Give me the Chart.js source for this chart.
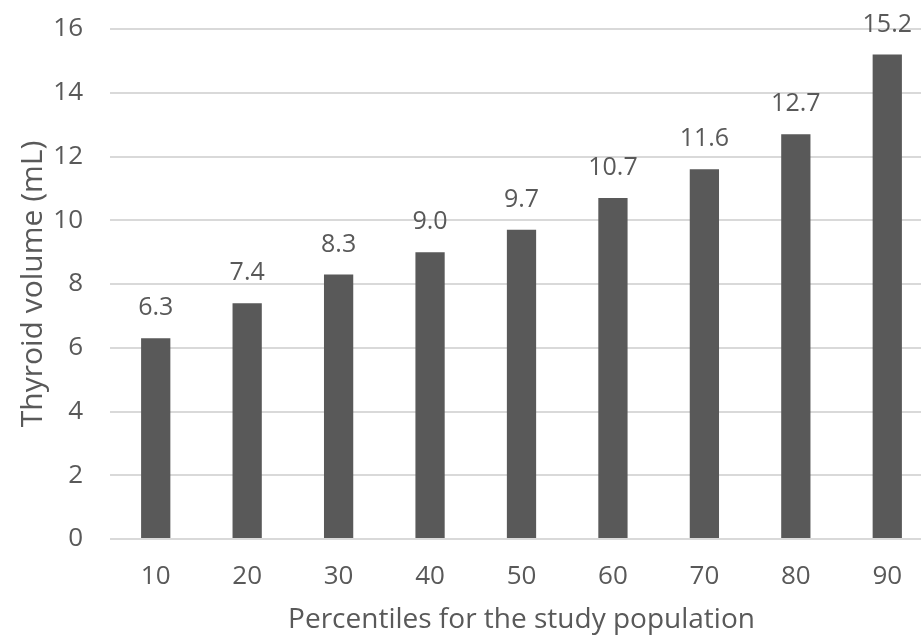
<!DOCTYPE html>
<html>
<head>
  <title>Thyroid volume by percentile</title>
  <script src="https://cdn.jsdelivr.net/npm/chart.js@4.4.0/dist/chart.umd.min.js"></script>
  <style>
    html, body { margin: 0; padding: 0; background: #fff; overflow: hidden; }
    #wrap { width: 933px; height: 637px; }
  </style>
</head>
<body>
  <div id="wrap"><canvas id="myChart"></canvas></div>

  <script>
    var percentiles = ['10', '20', '30', '40', '50', '60', '70', '80', '90'];
    var volumes = [6.3, 7.4, 8.3, 9.0, 9.7, 10.7, 11.6, 12.7, 15.2];
    var yTicks = [0, 2, 4, 6, 8, 10, 12, 14, 16];

    var textColor = '#595959';
    var fontFamily = '"Open Sans", sans-serif';

    // draws the value above each bar
    var valueLabels = {
      id: 'valueLabels',
      afterDatasetsDraw: function(chart) {
        var ctx = chart.ctx;
        var meta = chart.getDatasetMeta(0);
        ctx.save();
        ctx.fillStyle = textColor;
        ctx.font = '25px ' + fontFamily;
        ctx.textAlign = 'center';
        ctx.textBaseline = 'middle';
        meta.data.forEach(function(bar, i) {
          ctx.fillText(volumes[i].toFixed(1), bar.x, bar.y - 30);
        });
        ctx.restore();
      }
    };

    var ctx = document.getElementById('myChart').getContext('2d');
    var myChart = new Chart(ctx, {
      type: 'bar',
      data: {
        labels: percentiles,
        datasets: [{
          data: volumes,
          backgroundColor: '#595959',
          barPercentage: 1,
          categoryPercentage: 0.32
        }]
      },
      options: {
        responsive: true,
        maintainAspectRatio: false,
        animation: false,
        layout: { padding: { left: 0, right: 0, top: 29, bottom: 0 } },
        plugins: {
          legend: { display: false },
          tooltip: { enabled: false }
        },
        scales: {
          x: {
            afterFit: function(axis) { axis.height = 98; },
            grid: { display: false, drawTicks: false },
            border: { display: false },
            ticks: { color: textColor, font: { family: fontFamily, size: 26 }, padding: 22 },
            title: {
              display: true,
              text: 'Percentiles for the study population',
              color: textColor,
              font: { family: fontFamily, size: 28 },
              padding: { top: 0, bottom: 0 }
            }
          },
          y: {
            min: 0,
            max: 16,
            afterFit: function(axis) {
              axis.width = 110;
              axis.paddingTop = 0;
              axis.paddingBottom = 0;
            },
            afterBuildTicks: function(axis) {
              axis.ticks = yTicks.map(function(v) { return { value: v }; });
            },
            grid: { color: '#d9d9d9', lineWidth: 2, drawTicks: false },
            border: { display: false },
            ticks: { color: textColor, font: { family: fontFamily, size: 26 }, padding: 27 },
            title: {
              display: true,
              text: 'Thyroid volume (mL)',
              color: textColor,
              font: { family: fontFamily, size: 30 },
              padding: { top: 15, bottom: 0 }
            }
          }
        }
      },
      plugins: [valueLabels]
    });
  </script>
</body>
</html>
